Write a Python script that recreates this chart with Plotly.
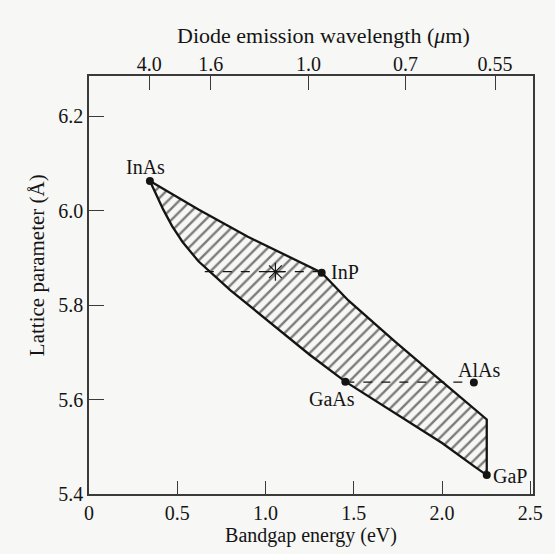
import plotly.graph_objects as go

# ---- data ----
# outline of the hatched region: InAs -> upper edge -> InP -> ... -> corner above GaP,
# then GaP -> lower edge (through GaAs) -> back to InAs
upper_E = [0.345, 0.62, 0.90, 1.10, 1.318, 1.469, 1.737, 2.000, 2.253]
upper_a = [6.063, 6.003, 5.945, 5.908, 5.869, 5.810, 5.722, 5.638, 5.558]
lower_E = [2.253, 2.184, 2.000, 1.810, 1.626, 1.452, 1.250, 1.084, 0.937, 0.800,
           0.620, 0.530, 0.470, 0.420, 0.380, 0.345]
lower_a = [5.440, 5.458, 5.508, 5.553, 5.596, 5.638, 5.695, 5.745, 5.790, 5.832,
           5.893, 5.934, 5.968, 6.003, 6.035, 6.063]

compounds = ["InAs", "InP", "GaAs", "AlAs", "GaP"]
comp_E = [0.345, 1.318, 1.452, 2.180, 2.253]
comp_a = [6.063, 5.869, 5.638, 5.636, 5.440]

dash1_E = [0.656, 1.318]
dash1_a = [5.871, 5.871]
dash2_E = [1.452, 2.180]
dash2_a = [5.637, 5.637]
star_E = [1.056]
star_a = [5.871]

bottom_ticks = [0, 0.5, 1.0, 1.5, 2.0, 2.5]
bottom_labels = ["0", "0.5", "1.0", "1.5", "2.0", "2.5"]
left_ticks = [5.4, 5.6, 5.8, 6.0, 6.2]
left_labels = ["5.4", "5.6", "5.8", "6.0", "6.2"]
top_ticks = [0.341, 0.689, 1.244, 1.793, 2.300]
top_labels = ["4.0", "1.6", "1.0", "0.7", "0.55"]

# ---- style ----
PAPER = "#f7f7f5"
INK = "#141414"
AX = "#3a3a3a"
FONT = "Liberation Serif"
FS = 20

fig = go.Figure()

poly_E = upper_E + lower_E
poly_a = upper_a + lower_a
fig.add_trace(go.Scatter(
    x=poly_E, y=poly_a, mode="lines", fill="toself",
    fillcolor=PAPER,
    fillpattern=dict(shape="/", size=8, solidity=0.3, fgcolor="#000000", bgcolor=PAPER),
    line=dict(color=INK, width=2.3), hoverinfo="skip", showlegend=False))

for xs, ys in [(dash1_E, dash1_a), (dash2_E, dash2_a)]:
    fig.add_trace(go.Scatter(x=xs, y=ys, mode="lines",
                             line=dict(color=INK, width=1.3, dash="dash"),
                             showlegend=False, hoverinfo="skip"))

fig.add_trace(go.Scatter(x=star_E, y=star_a, mode="markers",
                         marker=dict(symbol="asterisk-open", size=15, color=INK,
                                     line=dict(color=INK, width=1.2)),
                         showlegend=False))

fig.add_trace(go.Scatter(x=comp_E, y=comp_a, mode="markers",
                         marker=dict(symbol="circle", size=8, color=INK),
                         showlegend=False))

# invisible trace for top axis
fig.add_trace(go.Scatter(x=[top_ticks[0]], y=[5.5], xaxis="x2", mode="markers",
                         marker=dict(opacity=0), showlegend=False, hoverinfo="skip"))

offsets = {
    "InAs": dict(xshift=-4, yshift=14, xanchor="center"),
    "InP": dict(xshift=7, yshift=1, xanchor="left"),
    "GaAs": dict(xshift=12, yshift=-17, xanchor="right"),
    "AlAs": dict(xshift=5, yshift=13, xanchor="center"),
    "GaP": dict(xshift=4, yshift=-1, xanchor="left"),
}
for name, e, a in zip(compounds, comp_E, comp_a):
    fig.add_annotation(x=e, y=a, text=name, showarrow=False,
                       font=dict(family=FONT, size=FS, color=INK),
                       yanchor="middle", **offsets[name])

# axis titles placed as annotations to match the original positions
fig.add_annotation(xref="paper", yref="paper", x=-0.1153, y=0.547,
                   text="Lattice parameter (Å)", textangle=-90, showarrow=False,
                   xanchor="center", yanchor="middle",
                   font=dict(family=FONT, size=21, color=INK))
fig.add_annotation(xref="paper", yref="paper", x=0.528, y=1.097,
                   text="Diode emission wavelength (<i>μ</i>m)", showarrow=False,
                   xanchor="center", yanchor="middle",
                   font=dict(family=FONT, size=22, color=INK))

fig.update_layout(
    width=555, height=554,
    margin=dict(l=89, r=15, t=76, b=54),
    paper_bgcolor=PAPER, plot_bgcolor=PAPER,
    font=dict(family=FONT, size=FS, color=INK),
    showlegend=False,
    xaxis=dict(range=[0, 2.515], tickvals=bottom_ticks, ticktext=bottom_labels,
               ticks="inside", ticklen=13, tickwidth=1.3, tickcolor=AX,
               showline=True, linecolor=AX, linewidth=1.6, mirror=True,
               showgrid=False, zeroline=False,
               title=dict(text="Bandgap energy (eV)", standoff=4,
                          font=dict(family=FONT, size=FS))),
    yaxis=dict(range=[5.4, 6.2856], tickvals=left_ticks, ticktext=left_labels,
               ticks="inside", ticklen=15, tickwidth=1.3, tickcolor=AX,
               showline=True, linecolor=AX, linewidth=1.6, mirror=True,
               showgrid=False, zeroline=False),
    xaxis2=dict(range=[0, 2.515], overlaying="x", side="top", anchor="y",
                tickvals=top_ticks, ticktext=top_labels,
                ticks="inside", ticklen=14, tickwidth=1.3, tickcolor=AX,
                showline=False, showgrid=False, zeroline=False),
)

fig.write_html("out.html")
